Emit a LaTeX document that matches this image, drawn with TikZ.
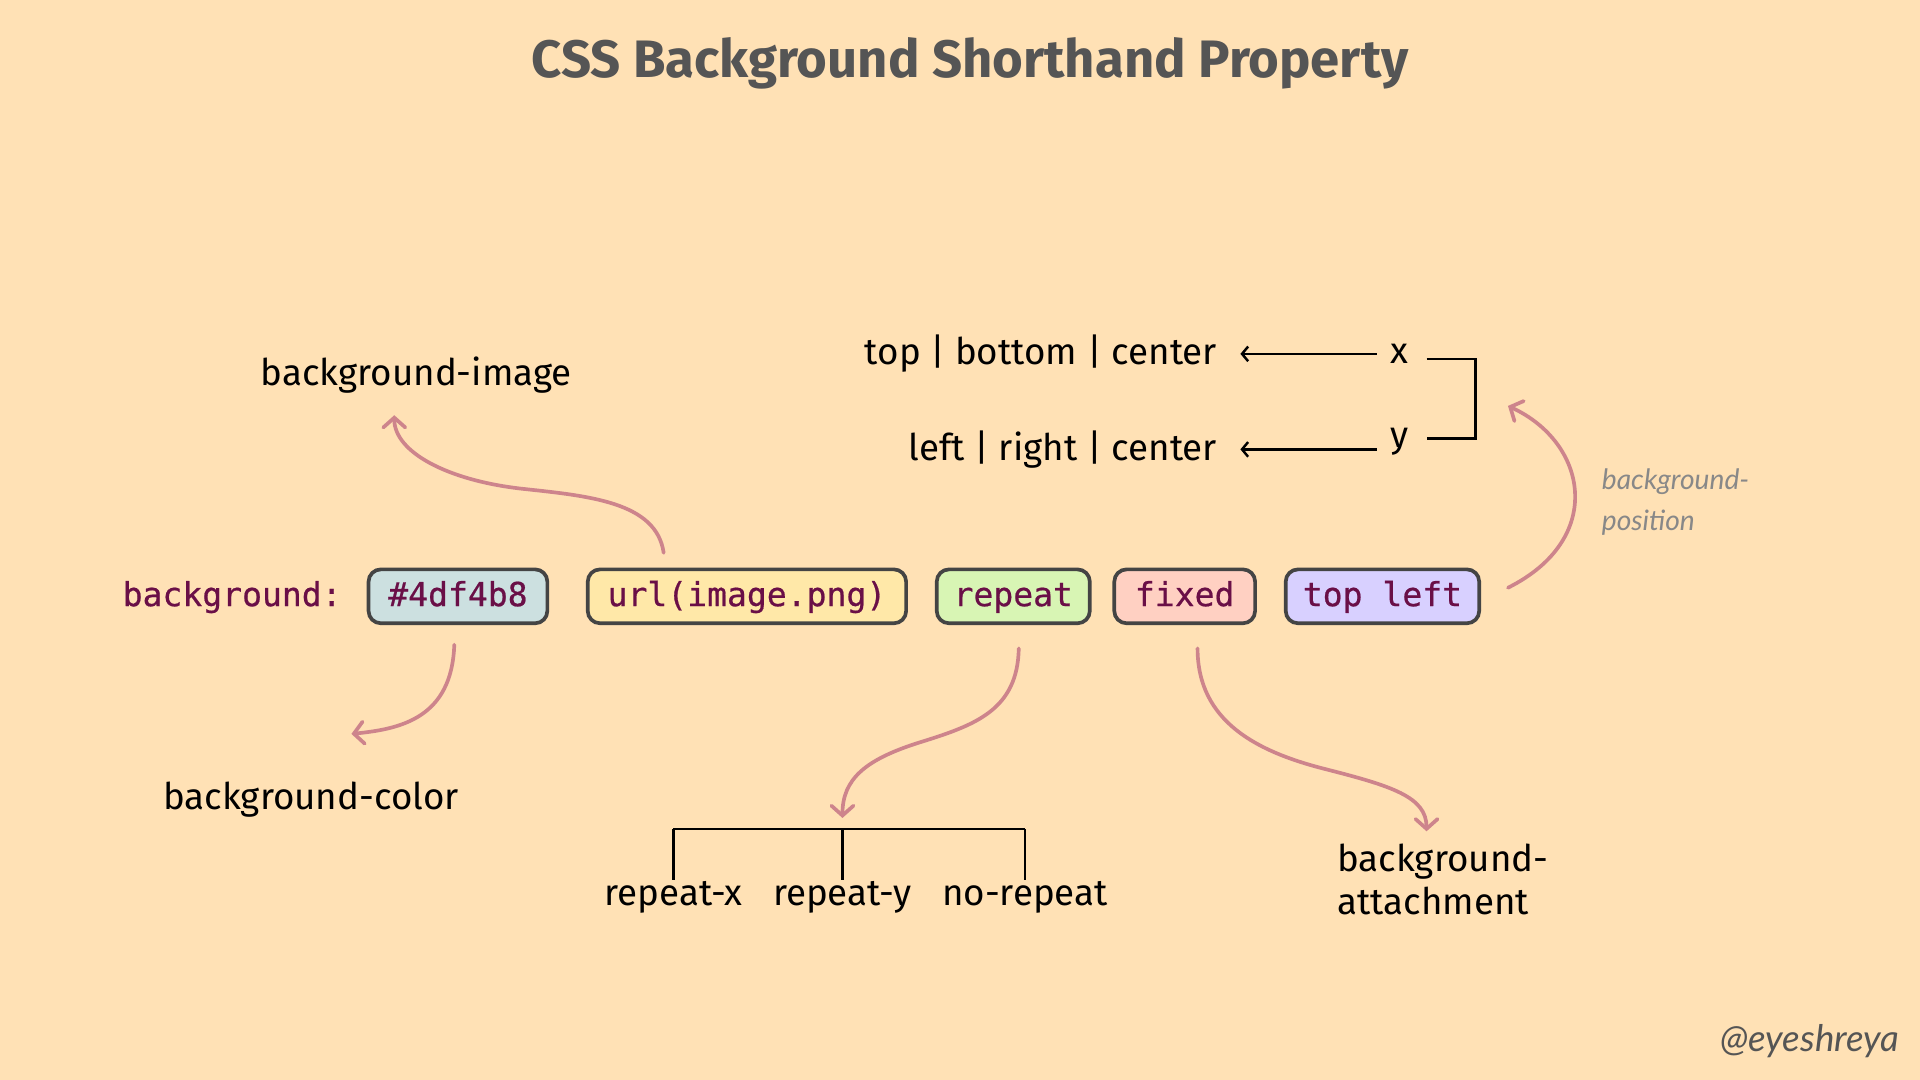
\documentclass[tikz,border=0pt]{standalone}
\usepackage{fontspec}
\setmainfont{Fira Sans}
\newfontfamily\monof[FakeBold=0.6]{DejaVu Sans Mono}
\newfontfamily\handf{Lato}
\usetikzlibrary{arrows.meta,calc}
\definecolor{bgc}{HTML}{FFE1B5}
\definecolor{pinkc}{HTML}{CD848C}
\definecolor{purp}{HTML}{6A0F47}
\definecolor{edgec}{HTML}{444444}
\definecolor{titlec}{HTML}{555555}
\definecolor{handc}{HTML}{888888}
\definecolor{fa}{HTML}{CCE0E0}
\definecolor{fb}{HTML}{FFE8A8}
\definecolor{fc}{HTML}{D8F5B4}
\definecolor{fd}{HTML}{FFD0C2}
\definecolor{fe}{HTML}{D8D0FF}
\tikzset{
  lbl/.style={font=\fontsize{30}{34}\selectfont, text=black, inner sep=0pt},
  code/.style={font=\monof\fontsize{27}{30}\selectfont, text=purp, inner sep=0pt,
     text height=22pt, text depth=6pt},
  valbox/.style={code, draw=edgec, line width=3pt, rounded corners=10pt, minimum height=44pt},
  pinkarrow/.style={draw=pinkc, line width=3pt, line cap=round,
     -{Straight Barb[length=8pt,width=18pt,line cap=round]}},
  blackarrow/.style={draw=black, line width=2pt,
     -{Straight Barb[length=5pt,width=12pt]}},
  blackline/.style={draw=black, line width=2pt},
}
\begin{document}
\begin{tikzpicture}[x=1pt,y=-1pt]
\fill[bgc] (0,0) rectangle (1568,882);
\useasboundingbox (0,0) rectangle (1568,882);

\node[font=\bfseries\fontsize{43}{47}\selectfont, text=titlec] (title) at (792,52) {CSS Background Shorthand Property};

% property row
\node[code, anchor=west] (prop) at (100,487) {background:};
\node[valbox, fill=fa, minimum width=146pt] (vcolor) at (374,487) {\#4df4b8};
\node[valbox, fill=fb, minimum width=260pt] (vimage) at (610,487) {url(image.png)};
\node[valbox, fill=fc, minimum width=125pt] (vrepeat) at (827.5,487) {repeat};
\node[valbox, fill=fd, minimum width=115pt] (vfixed) at (967.5,487) {fixed};
\node[valbox, fill=fe, minimum width=158pt] (vpos) at (1129,487) {top left};

% labels
\node[lbl] (limage) at (340,306) {background-image};
\node[lbl] (lcolor) at (254,653) {background-color};
\node[lbl, anchor=east] (ltbc) at (994,289) {top | bottom | center};
\node[lbl, anchor=east] (llrc) at (994,367) {left | right | center};
\node[lbl] (lx) at (1143,289) {x};
\node[lbl] (ly) at (1143,361) {y};
\node[lbl] (lrx) at (550,733) {repeat-x};
\node[lbl] (lry) at (688,733) {repeat-y};
\node[lbl] (lnr) at (837,733) {no-repeat};
\node[lbl, anchor=west, align=left, font=\fontsize{30}{35}\selectfont] (latt) at (1092,718) {background-\\attachment};
\node[font=\handf\itshape\fontsize{23}{34}\selectfont, text=handc, anchor=west, align=left, inner sep=0pt] (lposn) at (1308,410) {background-\\position};
\node[font=\handf\itshape\fontsize{30}{34}\selectfont, text=titlec, inner sep=0pt] (handle) at (1478,850) {@eyeshreya};

% x / y arrows and bracket
\draw[blackarrow] ($(lx.west)+(-11,0)$) -- ($(ltbc.east)+(19,0)$);
\draw[blackarrow] ($(ly.west)+(-11,6)$) -- ($(llrc.east)+(19,0)$);
\coordinate (bx1) at (1165,293);
\coordinate (bx2) at (1205,293);
\coordinate (by2) at (1205,358);
\coordinate (by1) at (1165,358);
\draw[blackline] (bx1) -- (bx2) -- (by2) -- (by1);

% repeat tree
\coordinate (tl) at (550,677);
\coordinate (tm) at (688,677);
\coordinate (tr) at (837,677);
\draw[blackline] (tl) -- (tr);
\draw[blackline] (tl) -- ($(lrx.north)+(0,-1)$ -| tl);
\draw[blackline] (tm) -- ($(lry.north)+(0,-1)$ -| tm);
\draw[blackline] (tr) -- ($(lnr.north)+(0,-1)$ -| tr);

% pink arrows
\coordinate (m1) at (425,399);
\draw[pinkarrow] ($(vimage.north)+(-68,-12)$) .. controls +(-6,-42) and +(55,6) .. (m1) .. controls +(-60,-7) and +(0,30) .. ($(limage.south)+(-18,18)$);
\draw[pinkarrow] ($(vcolor.south)+(-3,16)$) .. controls +(-2,60) and +(40,-4) .. ($(lcolor.north)+(33,-39)$);
\coordinate (m3) at (752,606);
\draw[pinkarrow] ($(vrepeat.south)+(4.5,19)$) .. controls +(-1,50) and +(45,-14) .. (m3) .. controls +(-45,14) and +(0,-32) .. ($(tm)+(0,-9)$);
\coordinate (m4) at (1082,628);
\draw[pinkarrow] ($(vfixed.south)+(10.5,19)$) .. controls +(0,60) and +(-55,-14) .. (m4) .. controls +(55,14) and +(0,-28) .. ($(latt.north west)+(73,-10)$);
\draw[pinkarrow] ($(vpos.east)+(22,-7)$) .. controls +(80,-40) and +(65,30) .. ($(vpos.north east)+(22,-132)$);
\end{tikzpicture}
\end{document}
